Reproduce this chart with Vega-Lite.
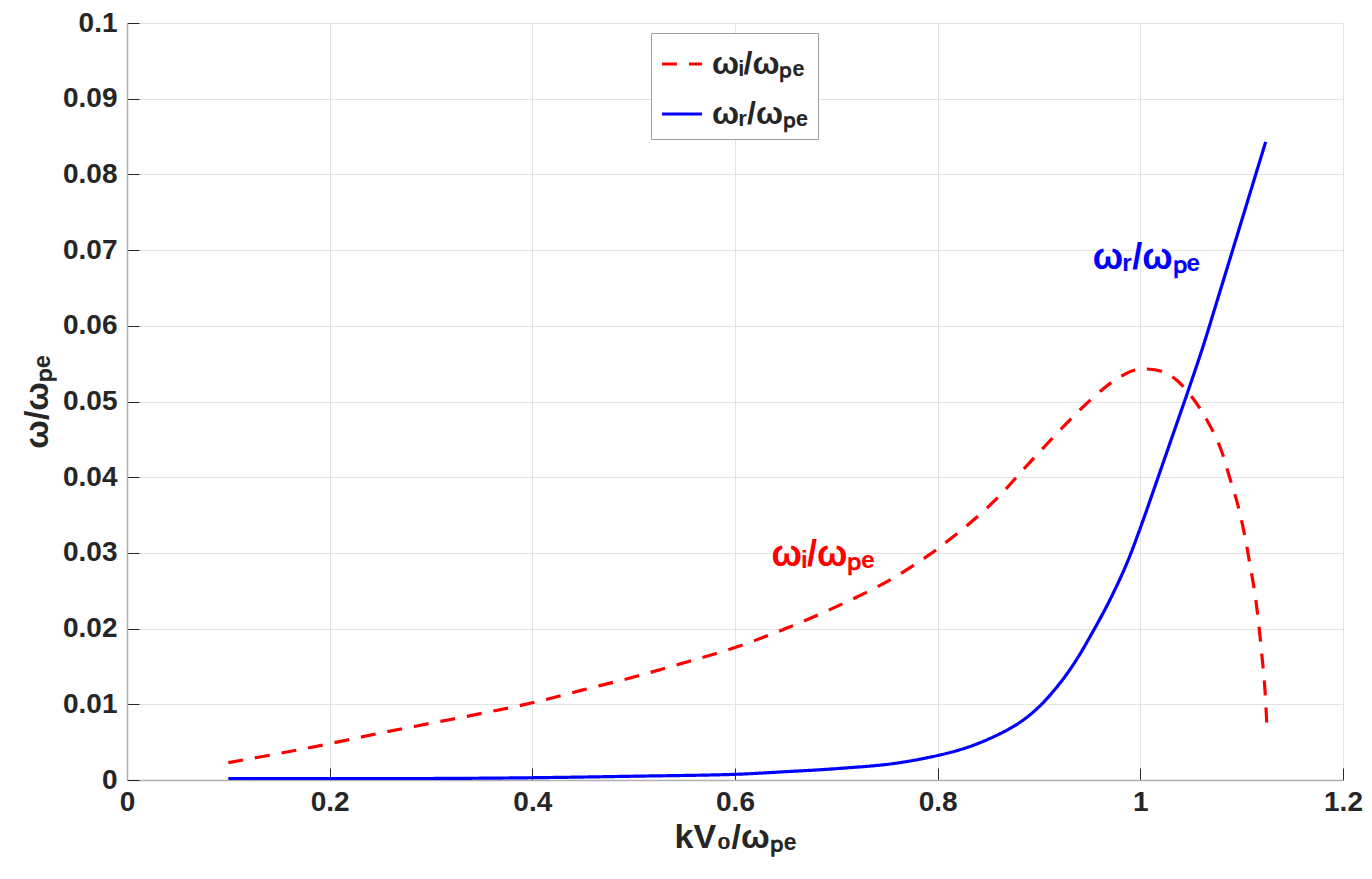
{
  "$schema": "https://vega.github.io/schema/vega-lite/v6.json",
  "width": 1216,
  "height": 757,
  "autosize": "none",
  "padding": {"left": 127, "top": 23, "right": 29, "bottom": 99},
  "background": "white",
  "datasets": {
    "curves": [
      {"s": "wi", "k": 0.1, "w": 0.0023},
      {"s": "wi", "k": 0.15, "w": 0.0035},
      {"s": "wi", "k": 0.2, "w": 0.0048},
      {"s": "wi", "k": 0.25, "w": 0.0062},
      {"s": "wi", "k": 0.3, "w": 0.0075},
      {"s": "wi", "k": 0.35, "w": 0.0088},
      {"s": "wi", "k": 0.4, "w": 0.0102},
      {"s": "wi", "k": 0.45, "w": 0.0119},
      {"s": "wi", "k": 0.5, "w": 0.0136},
      {"s": "wi", "k": 0.55, "w": 0.0155},
      {"s": "wi", "k": 0.6, "w": 0.0175},
      {"s": "wi", "k": 0.65, "w": 0.02},
      {"s": "wi", "k": 0.7, "w": 0.0229},
      {"s": "wi", "k": 0.75, "w": 0.0262},
      {"s": "wi", "k": 0.789, "w": 0.0295},
      {"s": "wi", "k": 0.814, "w": 0.032},
      {"s": "wi", "k": 0.8385, "w": 0.0347},
      {"s": "wi", "k": 0.8615, "w": 0.0376},
      {"s": "wi", "k": 0.881, "w": 0.0405},
      {"s": "wi", "k": 0.901, "w": 0.0434},
      {"s": "wi", "k": 0.922, "w": 0.0464},
      {"s": "wi", "k": 0.942, "w": 0.0491},
      {"s": "wi", "k": 0.9635, "w": 0.0517},
      {"s": "wi", "k": 0.977, "w": 0.053},
      {"s": "wi", "k": 0.993, "w": 0.0541},
      {"s": "wi", "k": 1.005, "w": 0.0543},
      {"s": "wi", "k": 1.023, "w": 0.0539},
      {"s": "wi", "k": 1.036, "w": 0.0528},
      {"s": "wi", "k": 1.052, "w": 0.0504},
      {"s": "wi", "k": 1.0655, "w": 0.0476},
      {"s": "wi", "k": 1.0786, "w": 0.044},
      {"s": "wi", "k": 1.0885, "w": 0.0398},
      {"s": "wi", "k": 1.0967, "w": 0.0361},
      {"s": "wi", "k": 1.1033, "w": 0.0321},
      {"s": "wi", "k": 1.108, "w": 0.0286},
      {"s": "wi", "k": 1.113, "w": 0.0247},
      {"s": "wi", "k": 1.1164, "w": 0.0211},
      {"s": "wi", "k": 1.1198, "w": 0.0167},
      {"s": "wi", "k": 1.123, "w": 0.0119},
      {"s": "wi", "k": 1.1252, "w": 0.0062},
      {"s": "wr", "k": 0.1, "w": 0.0002},
      {"s": "wr", "k": 0.2, "w": 0.0002},
      {"s": "wr", "k": 0.3, "w": 0.0002},
      {"s": "wr", "k": 0.4, "w": 0.0003},
      {"s": "wr", "k": 0.5, "w": 0.0005},
      {"s": "wr", "k": 0.6, "w": 0.00075},
      {"s": "wr", "k": 0.65, "w": 0.0011},
      {"s": "wr", "k": 0.7, "w": 0.0015},
      {"s": "wr", "k": 0.763, "w": 0.0023},
      {"s": "wr", "k": 0.822, "w": 0.004},
      {"s": "wr", "k": 0.855, "w": 0.0057},
      {"s": "wr", "k": 0.881, "w": 0.0076},
      {"s": "wr", "k": 0.901, "w": 0.0098},
      {"s": "wr", "k": 0.9207, "w": 0.0128},
      {"s": "wr", "k": 0.937, "w": 0.0159},
      {"s": "wr", "k": 0.9536, "w": 0.0197},
      {"s": "wr", "k": 0.97, "w": 0.0238},
      {"s": "wr", "k": 0.9866, "w": 0.0286},
      {"s": "wr", "k": 1.0, "w": 0.0333},
      {"s": "wr", "k": 1.016, "w": 0.0394},
      {"s": "wr", "k": 1.0326, "w": 0.0458},
      {"s": "wr", "k": 1.0474, "w": 0.0515},
      {"s": "wr", "k": 1.0622, "w": 0.0574},
      {"s": "wr", "k": 1.076, "w": 0.0634},
      {"s": "wr", "k": 1.0911, "w": 0.07},
      {"s": "wr", "k": 1.1139, "w": 0.08},
      {"s": "wr", "k": 1.1237, "w": 0.0843}
    ],
    "notes": [
      {"s": "wr", "k": 1.006, "w": 0.069, "label": "ωᵣ/ωₚₑ"},
      {"s": "wi", "k": 0.687, "w": 0.0297, "label": "ωᵢ/ωₚₑ"}
    ]
  },
  "encoding": {
    "x": {
      "field": "k",
      "type": "quantitative",
      "scale": {"domain": [0, 1.2], "nice": false, "zero": false},
      "axis": {
        "title": "kV₀/ωₚₑ",
        "values": [0, 0.2, 0.4, 0.6, 0.8, 1, 1.2],
        "format": "~g",
        "labelPadding": 20,
        "titlePadding": 4
      }
    },
    "y": {
      "field": "w",
      "type": "quantitative",
      "scale": {"domain": [0, 0.1], "nice": false, "zero": false},
      "axis": {
        "title": "ω/ωₚₑ",
        "values": [0, 0.01, 0.02, 0.03, 0.04, 0.05, 0.06, 0.07, 0.08, 0.09, 0.1],
        "format": "~g",
        "labelPadding": 22,
        "titlePadding": 8
      }
    }
  },
  "layer": [
    {
      "data": {"name": "curves"},
      "mark": {"type": "line", "strokeWidth": 3.2, "clip": true, "interpolate": "catmull-rom"},
      "encoding": {
        "color": {
          "field": "s",
          "type": "nominal",
          "scale": {"domain": ["wi", "wr"], "range": ["#ff0000", "#0000ff"]},
          "legend": {
            "title": null,
            "orient": "none",
            "legendX": 524,
            "legendY": 10,
            "labelExpr": "datum.value == 'wi' ? 'ωᵢ/ωₚₑ' : 'ωᵣ/ωₚₑ'"
          }
        },
        "strokeDash": {
          "field": "s",
          "type": "nominal",
          "scale": {"domain": ["wi", "wr"], "range": [[15, 12], [1, 0]]},
          "legend": {
            "title": null,
            "orient": "none",
            "legendX": 524,
            "legendY": 10,
            "labelExpr": "datum.value == 'wi' ? 'ωᵢ/ωₚₑ' : 'ωᵣ/ωₚₑ'"
          }
        }
      }
    },
    {
      "data": {"name": "notes"},
      "transform": [{"filter": "datum.s == 'wr'"}],
      "mark": {"type": "text", "color": "#0000ff", "fontSize": 36, "fontWeight": "bold", "font": "Liberation Sans", "baseline": "middle"},
      "encoding": {"text": {"field": "label"}}
    },
    {
      "data": {"name": "notes"},
      "transform": [{"filter": "datum.s == 'wi'"}],
      "mark": {"type": "text", "color": "#ff0000", "fontSize": 36, "fontWeight": "bold", "font": "Liberation Sans", "baseline": "middle"},
      "encoding": {"text": {"field": "label"}}
    }
  ],
  "config": {
    "font": "Liberation Sans",
    "view": {"stroke": null},
    "axis": {
      "grid": true,
      "gridColor": "#e3e3e3",
      "gridWidth": 1,
      "domainColor": "#b0b0b0",
      "domainWidth": 1.5,
      "tickColor": "#262626",
      "tickSize": -12,
      "labelFont": "Liberation Sans",
      "labelFontSize": 28,
      "labelFontWeight": "bold",
      "labelColor": "#262626",
      "titleFont": "Liberation Sans",
      "titleFontSize": 34,
      "titleFontWeight": "bold",
      "titleColor": "#262626"
    },
    "axisX": {"labelFlush": false},
    "axisY": {"labelFlush": false},
    "legend": {
      "strokeColor": "#a0a0a0",
      "fillColor": "white",
      "padding": 9,
      "symbolType": "stroke",
      "symbolStrokeWidth": 3.2,
      "symbolSize": 1600,
      "labelFont": "Liberation Sans",
      "labelFontSize": 32,
      "labelFontWeight": "bold",
      "labelColor": "#262626",
      "rowPadding": 12,
      "labelOffset": 8
    }
  }
}
